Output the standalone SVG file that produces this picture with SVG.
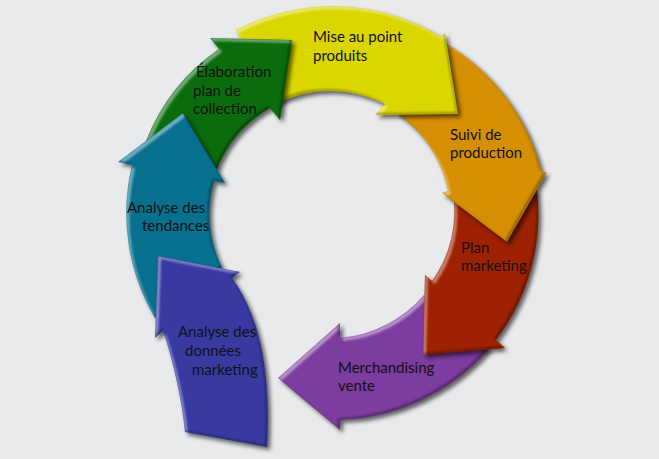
<svg xmlns="http://www.w3.org/2000/svg" width="659" height="459" viewBox="0 0 659 459">
  <defs>
    <filter id="fx" x="-15%" y="-15%" width="140%" height="140%" color-interpolation-filters="sRGB">
      <feGaussianBlur in="SourceAlpha" stdDeviation="2.2" result="blur"/>
      <feOffset in="blur" dx="3" dy="3" result="offB"/>
      <feFlood flood-color="#000" flood-opacity="0.6"/>
      <feComposite in2="offB" operator="in" result="shadow"/>
      <feOffset in="SourceAlpha" dx="2.5" dy="2.5" result="sh1"/>
      <feComposite in="SourceAlpha" in2="sh1" operator="out" result="rimTL"/>
      <feGaussianBlur in="rimTL" stdDeviation="1" result="rimTLb"/>
      <feFlood flood-color="#fff" flood-opacity="0.45"/>
      <feComposite in2="rimTLb" operator="in" result="hl0"/>
      <feComposite in="hl0" in2="SourceAlpha" operator="in" result="hl"/>
      <feOffset in="SourceAlpha" dx="-2.5" dy="-2.5" result="sh2"/>
      <feComposite in="SourceAlpha" in2="sh2" operator="out" result="rimBR"/>
      <feGaussianBlur in="rimBR" stdDeviation="1" result="rimBRb"/>
      <feFlood flood-color="#000" flood-opacity="0.35"/>
      <feComposite in2="rimBRb" operator="in" result="dk0"/>
      <feComposite in="dk0" in2="SourceAlpha" operator="in" result="dk"/>
      <feMerge>
        <feMergeNode in="shadow"/>
        <feMergeNode in="SourceGraphic"/>
        <feMergeNode in="hl"/>
        <feMergeNode in="dk"/>
      </feMerge>
    </filter>
  </defs>
  <style>
    .arrow { filter: url(#fx); }
    .lbl { font-family: Lato, "Liberation Sans", sans-serif; font-size: 15px; fill: #111; }
  </style>
  <rect x="0" y="0" width="659" height="459" fill="#e9eaec"/>

  <g id="merchandising">
    <path class="arrow" fill="#7d3c9f" d="M489,349 A207,207 0 0 1 340,420 L340,430 L278,378 L340,323 L340,338 A125,125 0 0 0 424,295 Z"/>
    <text class="lbl"><tspan x="338" y="373">Merchandising</tspan><tspan x="338" y="391">vente</tspan></text>
  </g>
  <g id="plan-marketing">
    <path class="arrow" fill="#9e2102" d="M537,190 A207,207 0 0 1 496,340 L505,348 L423,355 L425,275 L432,281 A122,122 0 0 0 454,202 Z"/>
    <text class="lbl"><tspan x="461" y="253">Plan</tspan><tspan x="461" y="271">marketing</tspan></text>
  </g>
  <g id="suivi-production">
    <path class="arrow" fill="#d68f03" d="M447,44 A210,210 0 0 1 542,173 L547,172 L507,242 L442,193 L448,191 A120,120 0 0 0 396,113 Z"/>
    <text class="lbl"><tspan x="450" y="140">Suivi de</tspan><tspan x="450" y="158">production</tspan></text>
  </g>
  <g id="mise-au-point">
    <path class="arrow" fill="#dbd600" d="M236,30 A207,207 0 0 1 441,37 L445,33 L458,114 L375,115 L385,104 A122,122 0 0 0 275,104 Z"/>
    <text class="lbl"><tspan x="313" y="42">Mise au point</tspan><tspan x="313" y="61">produits</tspan></text>
  </g>
  <g id="elaboration">
    <path class="arrow" fill="#0b6c0e" d="M146,141 A199,199 0 0 1 219,49 L210,38 L292,40 L280,120 L270,108 A122,122 0 0 0 217,169 Z"/>
    <text class="lbl"><tspan x="196" y="77">Élaboration</tspan><tspan x="193" y="96">plan de</tspan><tspan x="193" y="114">collection</tspan></text>
  </g>
  <g id="tendances">
    <path class="arrow" fill="#08708f" d="M155,318 A206,206 0 0 1 132,165 L118,162 L183,113 L225,183 L214,181 A122,122 0 0 0 222,268 Z"/>
    <text class="lbl"><tspan x="127" y="213">Analyse des</tspan><tspan x="142" y="231">tendances</tspan></text>
  </g>
  <g id="donnees-marketing">
    <path class="arrow" fill="#383aa2" d="M158,256 L240,272 L232,278 C266,325 270,390 267,447 L185,432 C182,400 173,360 163,331 L155,338 Z"/>
    <text class="lbl"><tspan x="178" y="337">Analyse des</tspan><tspan x="185" y="356">données</tspan><tspan x="192" y="375">marketing</tspan></text>
  </g>
  <g id="connectors"/>
</svg>
